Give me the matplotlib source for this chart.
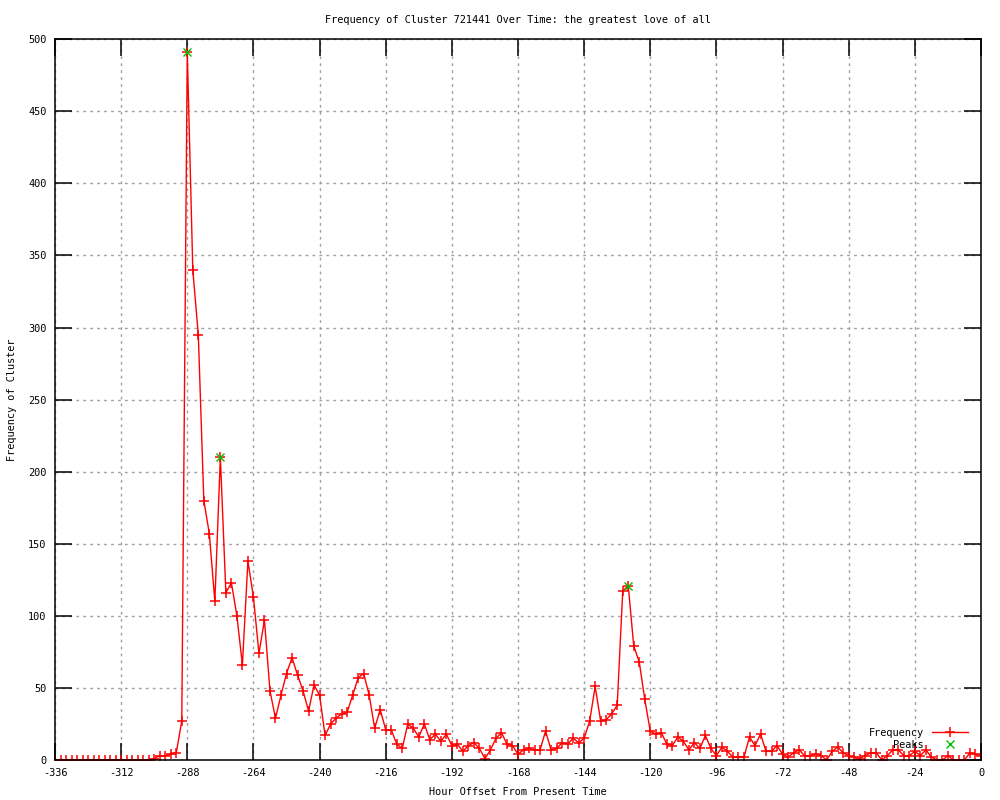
import numpy as np
import matplotlib
matplotlib.use("Agg")
import matplotlib.pyplot as plt
from matplotlib.lines import Line2D

# hours before present, one sample every 2 hours
hours = np.arange(-336, 1, 2)

freq = [0] * 18 + [
    1, 3, 3, 4, 5, 27, 491, 340, 295, 180, 157, 110, 210, 116, 123, 100,
    66, 138, 113, 74, 97, 48, 29, 45, 60, 71, 59, 48, 34, 52, 45, 17,
    25, 29, 32, 33, 45, 57, 60, 45, 22, 35, 21, 21, 11, 8, 25, 22,
    16, 25, 14, 18, 13, 18, 10, 11, 6, 10, 12, 8, 1, 7, 15, 19,
    11, 10, 4, 7, 8, 7, 7, 20, 7, 8, 12, 11, 15, 12, 15, 27,
    51, 27, 28, 32, 38, 117, 121, 79, 68, 42, 20, 18, 19, 11, 10, 16,
    13, 7, 12, 8, 17, 8, 3, 9, 6, 2, 2, 2, 16, 10, 18, 6,
    6, 10, 4, 2, 5, 7, 3, 3, 4, 3, 0, 6, 9, 5, 3, 2,
    1, 3, 5, 5, 0, 3, 7, 7, 3, 3, 6, 3, 7, 2, 0, 0,
    3, 0, 0, 0, 5, 4, 3,
]

peak_hours = [-288, -276, -128]
peak_vals = [491, 210, 121]

xticks = list(range(-336, 1, 24))
yticks = list(range(0, 501, 50))

plt.rcParams['font.family'] = ['DejaVu Sans Mono']
plt.rcParams['font.size'] = 7.4

fig = plt.figure(figsize=(10, 8), dpi=100)
ax = fig.add_axes([0.055, 0.05, 0.926, 0.901])

ax.plot(hours, freq, color='red', lw=1.0, marker='+', ms=6.5, mew=1.1)
ax.plot(peak_hours, peak_vals, ls='none', color='#00c000', marker='x', ms=5.5, mew=1)

ax.set_xlim(-336, 0)
ax.set_ylim(0, 500)
ax.set_xticks(xticks)
ax.set_yticks(yticks)
ax.set_xticklabels([str(t) for t in xticks])
ax.tick_params(direction='in', length=12, width=1.1, top=True, right=True,
               labelsize=7.4, pad=6)
ax.grid(True, color='#a0a0a0', ls=(0, (2, 3)), lw=1)
for s in ax.spines.values():
    s.set_linewidth(1.1)

ax.set_title("Frequency of Cluster 721441 Over Time: the greatest love of all",
             fontsize=7.4, pad=12)
ax.set_xlabel("Hour Offset From Present Time", fontsize=7.4, labelpad=6)
ax.set_ylabel("Frequency of Cluster", fontsize=7.4, labelpad=8)

handles = [
    Line2D([], [], color='red', lw=1.0, marker='+', ms=6.5, mew=1.1),
    Line2D([], [], ls='none', color='#00c000', marker='x', ms=5.5, mew=1),
]
ax.legend(handles, ["Frequency", "Peaks"], loc='lower right', frameon=False,
          markerfirst=False, handlelength=3.5, borderaxespad=0.6,
          labelspacing=0.2, fontsize=7.4, bbox_to_anchor=(0.997, 0.0))

fig.savefig("out.png", dpi=100)
